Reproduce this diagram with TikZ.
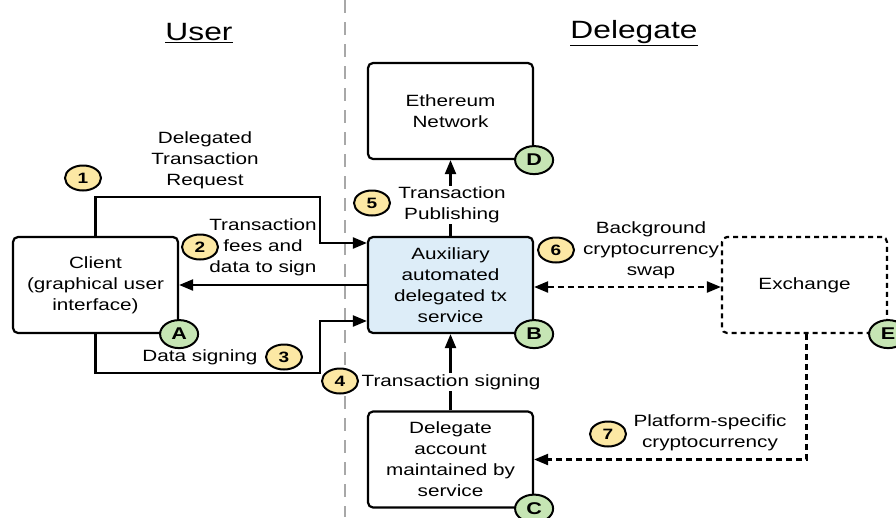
\documentclass[tikz,border=0pt]{standalone}
\usepackage{fontspec}
\setmainfont{Liberation Sans}[FakeStretch=1.27]
\usetikzlibrary{arrows.meta,shapes.geometric,calc}
\definecolor{badgeyellow}{HTML}{FCE8A4}
\definecolor{badgegreen}{HTML}{C6E5B4}
\definecolor{servicefill}{HTML}{DDEDF8}
\definecolor{dividergray}{HTML}{A8A8A8}
\tikzset{
  box/.style={draw, line width=2.2pt, rounded corners=5pt, minimum width=165pt,
    minimum height=96pt, inner sep=2pt, align=center,
    font=\fontsize{16.3}{21}\selectfont},
  lbl/.style={align=center, inner sep=1pt, font=\fontsize{16.3}{21}\selectfont},
  num/.style={ellipse, draw, line width=2pt, fill=badgeyellow, minimum width=36pt,
    minimum height=25pt, inner sep=0pt, font=\fontsize{15}{15}\selectfont\bfseries},
  tag/.style={ellipse, draw, line width=2pt, fill=badgegreen, minimum width=38pt,
    minimum height=28pt, inner sep=0pt, font=\fontsize{17}{17}\selectfont\bfseries},
  flow/.style={line width=2.2pt, -{Triangle[length=14pt,width=11pt]}},
  dflow/.style={flow, dash pattern=on 6pt off 4pt},
  header/.style={font=\fontsize{25}{30}\selectfont},
}
\begin{document}
\begin{tikzpicture}[x=1pt,y=-1pt]
\useasboundingbox (0,0) rectangle (896,517);

% lane divider and headings
\draw[dividergray, line width=2pt, dash pattern=on 13pt off 9pt] (345,0) -- (345,517);
\node[header] (huser) at (199,33) {\underline{User}};
\node[header] (hdel) at (634,33) {\underline{Delegate}};

% boxes
\node[box] (client) at (95.5,285) {Client\\(graphical user\\interface)};
\node[box] (eth) at (450.5,111) {Ethereum\\Network};
\node[box, fill=servicefill] (aux) at (450.5,285) {Auxiliary\\automated\\delegated tx\\service};
\node[box] (deleg) at (450.5,459.5) {Delegate\\account\\maintained by\\service};
\node[box, dash pattern=on 5pt off 4pt] (exch) at (804.5,285) {Exchange};

% bend points of the user-side flows
\coordinate (r1) at (320,197);
\coordinate (r3) at (320,373);

% connectors
\draw[flow] (client.north) |- (r1) |- ($(aux.west)+(0,-42)$);
\draw[flow] (aux.west) -- (client.east);
\draw[flow] (client.south) |- (r3) |- ($(aux.west)+(0,36)$);
\draw[flow] (deleg.north) -- (aux.south);
\draw[flow] (aux.north) -- (eth.south);
\draw[dflow, {Triangle[length=14pt,width=11pt]}-{Triangle[length=14pt,width=11pt]}] ($(aux.east)+(0,2)$) -- ($(exch.west)+(0,2)$);
\draw[dflow] ($(exch.south)+(2,0)$) |- (deleg.east);

% flow labels
\node[lbl] (l1) at (205,160) {Delegated\\Transaction\\Request};
\node[lbl] (l2) at (263,247) {Transaction\\fees and\\data to sign};
\node[lbl] (l3) at (200,357) {Data signing};
\node[lbl, fill=white] (l4) at (451,382) {Transaction signing};
\node[lbl, fill=white] (l5) at (452,205) {Transaction\\Publishing};
\node[lbl] (l6) at (651,250) {Background\\cryptocurrency\\swap};
\node[lbl] (l7) at (710,433) {Platform-specific\\cryptocurrency};

% step numbers
\node[num] (n1) at (83,178) {1};
\node[num] (n2) at (200,247) {2};
\node[num] (n3) at (284,357) {3};
\node[num] (n4) at (340,381) {4};
\node[num] (n5) at (372,203) {5};
\node[num] (n6) at (556,250) {6};
\node[num] (n7) at (608,434) {7};

% component tags
\node[tag] (ta) at (client.south east) {A};
\node[tag] (tb) at (aux.south east) {B};
\node[tag] (tc) at (deleg.south east) {C};
\node[tag] (td) at (eth.south east) {D};
\node[tag] (te) at (exch.south east) {E};
\end{tikzpicture}
\end{document}
